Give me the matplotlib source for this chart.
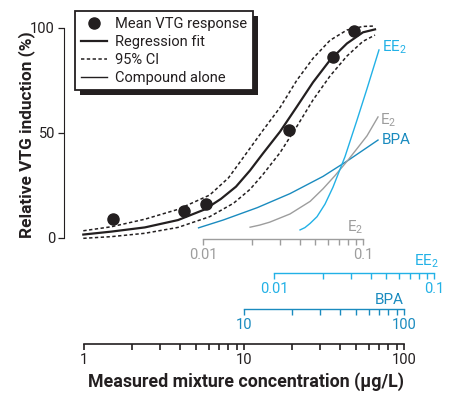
import numpy as np
import matplotlib
matplotlib.use('Agg')
import matplotlib.pyplot as plt
from matplotlib.lines import Line2D
from matplotlib.patches import Rectangle
from matplotlib.transforms import IdentityTransform
from matplotlib.ticker import NullFormatter

plt.rcParams['font.family'] = ['Roboto', 'DejaVu Sans']
plt.rcParams['mathtext.fontset'] = 'custom'
plt.rcParams['mathtext.rm'] = 'Roboto'
plt.rcParams['mathtext.default'] = 'regular'

# --- data ---
# mean VTG response vs measured mixture concentration (ug/L)
mix_conc = [1.52, 4.24, 5.79, 19.2, 35.8, 48.7]
vtg_mean = [8.8, 12.9, 16.0, 51.3, 86.2, 98.4]

# regression fit
fit_conc = [0.99, 1.48, 2.40, 3.87, 5.70, 7.18, 8.91, 10.9, 13.1, 16.8, 21.4, 27.0, 34.5, 44.0, 55.4, 65.9]
fit_vtg = [1.5, 2.9, 4.9, 8.4, 13.5, 18.5, 24.3, 32.0, 40.0, 50.5, 62.4, 74.0, 84.6, 92.5, 97.8, 99.2]

# 95% CI
ci_hi_conc = [0.99, 1.48, 2.40, 3.87, 6.10, 8.0, 10.3, 13.1, 16.8, 21.4, 27.0, 34.5, 44.0, 55.4, 65.9]
ci_hi = [3.3, 5.2, 8.8, 13.5, 20.3, 28.5, 40.0, 51.0, 62.0, 75.0, 85.4, 94.0, 98.9, 100.6, 100.8]
ci_lo_conc = [0.99, 1.48, 2.40, 3.87, 6.10, 8.6, 10.9, 13.1, 16.8, 21.4, 27.0, 34.5, 44.0, 55.4, 65.9]
ci_lo = [-0.3, 0.5, 2.1, 4.9, 10.0, 16.4, 23.0, 30.0, 40.5, 53.0, 65.6, 77.0, 86.5, 93.5, 96.5]

# compounds alone, each in its own concentration (ug/L)
e2_conc = [0.0196, 0.0225, 0.026, 0.0348, 0.0465, 0.056, 0.0664, 0.0803, 0.0926, 0.1054, 0.1235]
e2_vtg = [5.0, 6.0, 7.4, 11.3, 17.3, 23.3, 29.5, 37.0, 43.0, 48.5, 57.5]
ee2_conc = [0.01445, 0.0155, 0.0167, 0.01845, 0.0207, 0.0232, 0.0276, 0.0328, 0.0379, 0.0450]
ee2_vtg = [3.7, 4.8, 6.8, 10.0, 16.0, 24.0, 38.6, 56.0, 71.0, 89.4]
bpa_conc = [5.2, 7.4, 12.1, 19.4, 31.2, 44.7, 68.8]
bpa_vtg = [4.7, 8.4, 14.3, 21.0, 29.2, 36.8, 46.5]

# compound conc -> mixture conc
E2_FACTOR = 557.0
EE2_FACTOR = 1550.0
BPA_FACTOR = 1.0

C_E2 = '#9d9d9d'
C_EE2 = '#22b1e6'
C_BPA = '#1a8bbf'
DARK = '#231f20'

W, H = 454, 393
fig = plt.figure(figsize=(W / 100, H / 100), dpi=100)


def fx(px):
    return px / W


def fy(py):
    return 1 - py / H


XLIM = (10 ** ((64 - 84) / 160), 10 ** ((440 - 84) / 160))

ax = fig.add_axes([fx(64), fy(237.7), (440 - 64) / W, 210 / H])
ax.patch.set_visible(False)
ax.set_xscale('log')
ax.set_xlim(*XLIM)
ax.set_ylim(0, 100)
for s in ['top', 'right', 'bottom']:
    ax.spines[s].set_visible(False)
ax.spines['left'].set_color(DARK)
ax.set_xticks([])
ax.set_xticks([], minor=True)
ax.set_yticks([0, 50, 100])
ax.tick_params(axis='y', direction='out', length=4, width=0.9, color=DARK,
               labelsize=10.5, labelcolor=DARK, pad=2.5)

# compounds alone
ax.plot(np.array(bpa_conc) * BPA_FACTOR, bpa_vtg, color=C_BPA, lw=1.0, clip_on=False)
ax.plot(np.array(e2_conc) * E2_FACTOR, e2_vtg, color=C_E2, lw=1.0, clip_on=False)
ax.plot(np.array(ee2_conc) * EE2_FACTOR, ee2_vtg, color=C_EE2, lw=1.0, clip_on=False)

# mixture
ax.plot(ci_hi_conc, ci_hi, color=DARK, lw=1.1, ls=(0, (2.2, 1.6)), clip_on=False)
ax.plot(ci_lo_conc, ci_lo, color=DARK, lw=1.1, ls=(0, (2.2, 1.6)), clip_on=False)
ax.plot(fit_conc, fit_vtg, color=DARK, lw=1.6, clip_on=False)
ax.plot(mix_conc, vtg_mean, 'o', color=DARK, ms=8, clip_on=False, zorder=4)

# curve end labels
ax.annotate('EE$_2$', (ee2_conc[-1] * EE2_FACTOR, ee2_vtg[-1]), xytext=(3, 3),
            textcoords='offset pixels', ha='left', va='center', color=C_EE2, fontsize=11)
ax.annotate('E$_2$', (e2_conc[-1] * E2_FACTOR, e2_vtg[-1]), xytext=(2, -3),
            textcoords='offset pixels', ha='left', va='center', color=C_E2, fontsize=11)
ax.annotate('BPA', (bpa_conc[-1] * BPA_FACTOR, bpa_vtg[-1]), xytext=(4, 0),
            textcoords='offset pixels', ha='left', va='center', color=C_BPA, fontsize=11)


def conc_axis(y_px, factor, lo, hi, major, labels, minor, color, lw=1.0):
    a = fig.add_axes([fx(64), fy(y_px), (440 - 64) / W, 0.0001])
    a.patch.set_visible(False)
    a.set_xscale('log')
    a.set_xlim(XLIM[0] / factor, XLIM[1] / factor)
    a.set_yticks([])
    for s in ['left', 'right', 'top']:
        a.spines[s].set_visible(False)
    a.spines['bottom'].set_bounds(lo, hi)
    a.spines['bottom'].set_color(color)
    a.spines['bottom'].set_linewidth(lw)
    a.set_xticks(major, labels)
    a.set_xticks(minor, minor=True)
    a.xaxis.set_minor_formatter(NullFormatter())
    a.tick_params(axis='x', which='both', direction='out', length=4.3, width=lw,
                  color=color, labelcolor=color, labelsize=10.5, pad=2)
    return a


dec = [2, 3, 4, 5, 6, 7, 8, 9]
ax_e2 = conc_axis(239.3, E2_FACTOR, 0.01, 0.1, [0.01, 0.1], ['0.01', '0.1'],
                  [d * 0.01 for d in dec], C_E2)
ax_ee2 = conc_axis(273.3, EE2_FACTOR, 0.01, 0.1, [0.01, 0.1], ['0.01', '0.1'],
                   [d * 0.01 for d in dec], C_EE2)
ax_bpa = conc_axis(309.3, BPA_FACTOR, 10, 100, [10, 100], ['10', '100'],
                   [d * 10 for d in dec], C_BPA)
ax_mix = conc_axis(344, 1.0, 1, 100, [1, 10, 100], ['1', '10', '100'],
                   dec + [d * 10 for d in dec], DARK, lw=1.2)

ax_e2.annotate('E$_2$', (0.1, 0), xytext=(0, 3), textcoords='offset pixels',
               ha='right', va='bottom', color=C_E2, fontsize=11, annotation_clip=False)
ax_ee2.annotate('EE$_2$', (0.1, 0), xytext=(5, 3), textcoords='offset pixels',
                ha='right', va='bottom', color=C_EE2, fontsize=11, annotation_clip=False)
ax_bpa.annotate('BPA', (100, 0), xytext=(0, 2), textcoords='offset pixels',
                ha='right', va='bottom', color=C_BPA, fontsize=11, annotation_clip=False)

ax.set_ylabel('Relative VTG induction (%)', fontsize=12.4, fontweight='bold', color=DARK)
ax.yaxis.set_label_coords((35 - 64) / 376, 0.49)
fig.text(fx(245.5), fy(382), 'Measured mixture concentration (µg/L)', ha='center', va='center',
         fontsize=12.8, fontweight='bold', color=DARK)

# legend
handles = [
    Line2D([], [], marker='o', ls='none', color=DARK, ms=8),
    Line2D([], [], color=DARK, lw=1.6),
    Line2D([], [], color=DARK, lw=1.1, ls=(0, (2.2, 1.6))),
    Line2D([], [], color=DARK, lw=1.0),
]
names = ['Mean VTG response', 'Regression fit', '95% CI', 'Compound alone']
leg = ax.legend(handles, names, loc='upper left', bbox_to_anchor=(fx(75), fy(11)),
                bbox_transform=fig.transFigure, borderaxespad=0, fontsize=10.5,
                frameon=True, fancybox=False, framealpha=1, edgecolor=DARK,
                borderpad=0.4, handlelength=1.8, handletextpad=0.55, labelspacing=0.27)
leg.get_frame().set_linewidth(1.3)
for t in leg.get_texts():
    t.set_color(DARK)

fig.canvas.draw()
bb = leg.get_frame().get_window_extent()
shadow = Rectangle((bb.x0 + 5, bb.y0 - 5), bb.width, bb.height, transform=IdentityTransform(),
                   facecolor=DARK, edgecolor='none', zorder=4.9, clip_on=False)
ax.add_patch(shadow)

fig.savefig('out.png', dpi=100)
